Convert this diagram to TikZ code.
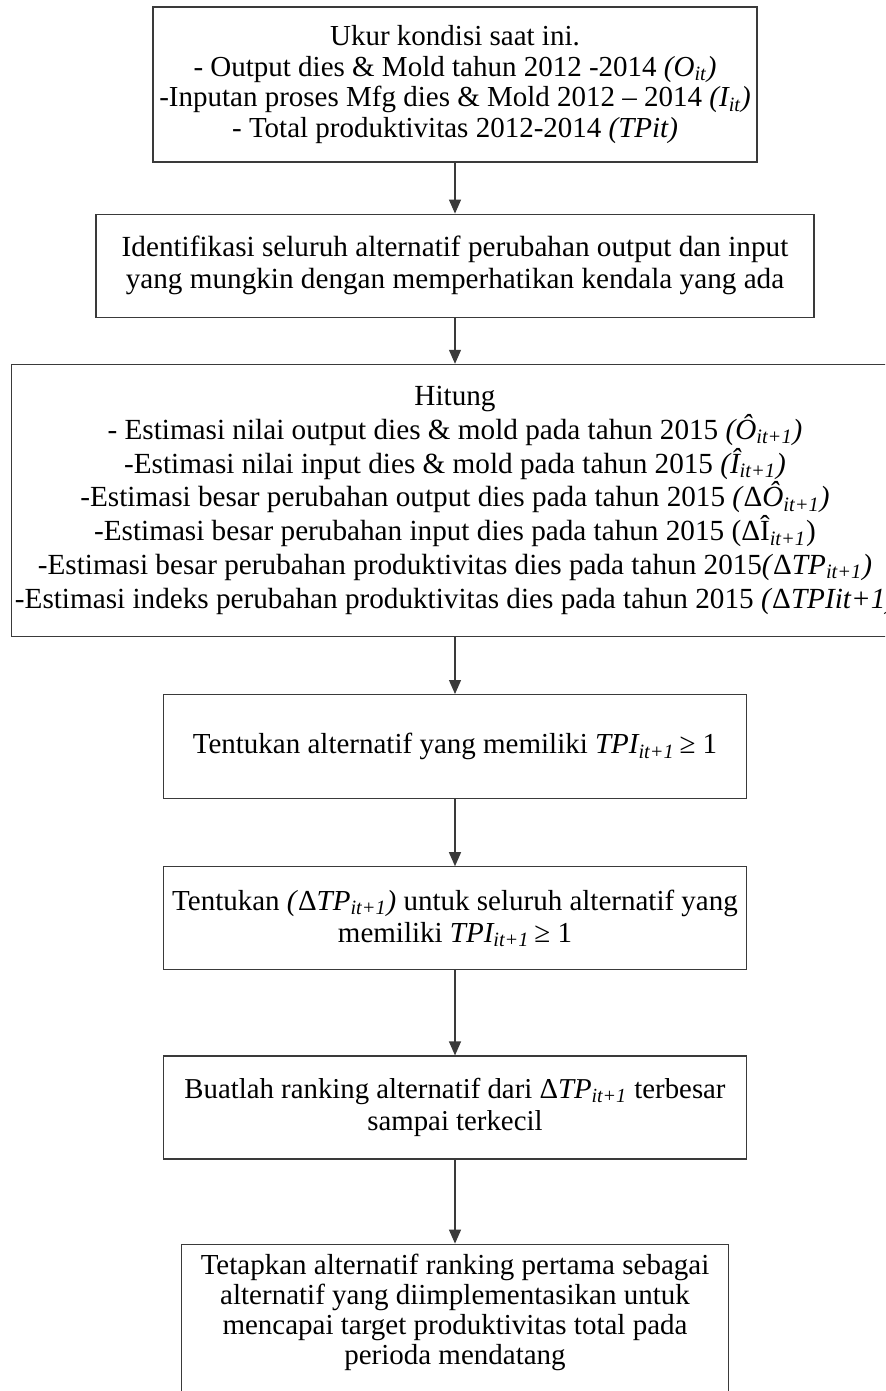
\documentclass[tikz,border=0pt]{standalone}
\usepackage{fontspec}
\setmainfont{Liberation Serif}
\usetikzlibrary{arrows.meta,positioning}
\definecolor{flowline}{HTML}{3A3A3A}
\newcommand{\sub}[1]{\textsubscript{#1}}

\begin{document}
\begin{tikzpicture}[
  box/.style={draw=flowline,line width=0.6pt,inner sep=0pt,align=center,font=\fontsize{14.5}{15.4}\selectfont},
  arrow/.style={-{Triangle[length=7pt,width=6pt]},line width=0.6pt,flowline}
]
\useasboundingbox (0,0) rectangle (442.5pt,-695.5pt);
\clip (0,0) rectangle (442.5pt,-695.5pt);
\node[box,minimum width=302pt,minimum height=77.5pt] (measure) at (227.5pt,-42.25pt)
  {Ukur kondisi saat ini.\\- Output dies \& Mold tahun 2012 -2014 \textit{(O\sub{it})}\\-Inputan proses Mfg dies \& Mold 2012 – 2014 \textit{(I\sub{it})}\\- Total produktivitas 2012-2014 \textit{(TPit)}};
\node[box,minimum width=359pt,minimum height=51.5pt,below=25.5pt of measure,font=\fontsize{14.6}{16}\selectfont] (identify)
  {Identifikasi seluruh alternatif perubahan output dan input\\yang mungkin dengan memperhatikan kendala yang ada};
\node[box,minimum width=443.5pt,minimum height=136pt,below=23pt of identify,font=\fontsize{14.6}{16.9}\selectfont] (compute)
  {Hitung\\- Estimasi nilai output dies \& mold pada tahun 2015 \textit{(Ô\sub{it+1})}\\-Estimasi nilai input dies \& mold pada tahun 2015 \textit{(Î\sub{it+1})}\\-Estimasi besar perubahan output dies pada tahun 2015 \textit{(}Δ\textit{Ô\sub{it+1})}\\-Estimasi besar perubahan input dies pada tahun 2015 (ΔÎ\sub{\textit{it+1}})\\-Estimasi besar perubahan produktivitas dies pada tahun 2015\textit{(}Δ\textit{TP\sub{it+1})}\\-Estimasi indeks perubahan produktivitas dies pada tahun 2015 \textit{(}Δ\textit{TPIit+1)}};
\node[box,minimum width=291.5pt,minimum height=52pt,below=28.5pt of compute] (select)
  {Tentukan alternatif yang memiliki \textit{TPI\sub{it+1}}\,≥ 1};
\node[box,minimum width=291.5pt,minimum height=51.5pt,below=33.5pt of select,font=\fontsize{14.5}{16}\selectfont] (delta)
  {Tentukan \textit{(}Δ\textit{TP\sub{it+1})} untuk seluruh alternatif yang\\memiliki \textit{TPI\sub{it+1}}\,≥ 1};
\node[box,minimum width=291.5pt,minimum height=51.5pt,below=42.5pt of delta,font=\fontsize{14.4}{16}\selectfont] (rank)
  {Buatlah ranking alternatif dari Δ\textit{TP\sub{it+1}} terbesar\\sampai terkecil};
\node[box,minimum width=273.5pt,inner ysep=5pt,text depth=30pt,below=42pt of rank,font=\fontsize{14.5}{15}\selectfont] (decide)
  {Tetapkan alternatif ranking pertama sebagai\\alternatif yang diimplementasikan untuk\\mencapai target produktivitas total pada\\perioda mendatang};

\draw[arrow] (measure)--(identify);
\draw[arrow] (identify)--(compute);
\draw[arrow] (compute)--(select);
\draw[arrow] (select)--(delta);
\draw[arrow] (delta)--(rank);
\draw[arrow] (rank)--(decide);
\end{tikzpicture}
\end{document}
